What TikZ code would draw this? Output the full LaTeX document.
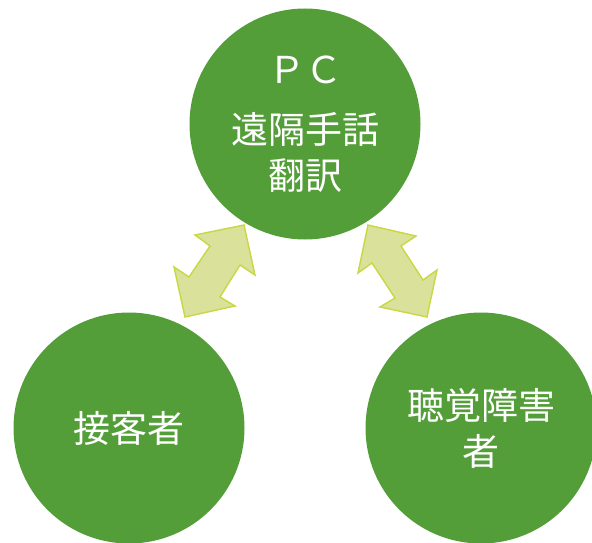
\documentclass[tikz,border=0pt]{standalone}
\usepackage{fontspec}
\newfontfamily\cjk{Noto Sans CJK JP}
\definecolor{leaf}{HTML}{549E39}
\definecolor{pale}{HTML}{D9E19B}
\definecolor{lime}{HTML}{C9D741}

\begin{document}
\begin{tikzpicture}[
		x=1pt, y=-1pt,
		every node/.style={circle, fill=leaf, text=white, minimum size=231pt, inner sep=0pt, align=center, font=\cjk\fontsize{37}{46}\selectfont},
		twoway/.style={draw=lime, fill=pale, line width=1.4pt, line join=miter}
	]
  \useasboundingbox (0,0) rectangle (592,543);
  \node (pc) at (305,124) {ＰＣ\\[14pt]遠隔手話\\翻訳};
  \node (staff) at (129,428) {接客者};
  \node (user) at (481,428) {聴覚障害\\者};
  \draw [twoway] (244,225) -- (195,235) -- (210,246) -- (189,277) -- (174,267) -- (185,317)
    -- (235,306) -- (220,297) -- (240,265) -- (255,275) -- cycle;
  \draw [twoway] (368,225) -- (416,236) -- (401,246) -- (423,280) -- (437,270) -- (427,317)
    -- (380,307) -- (395,298) -- (372,263) -- (358,273) -- cycle;
\end{tikzpicture}
\end{document}
